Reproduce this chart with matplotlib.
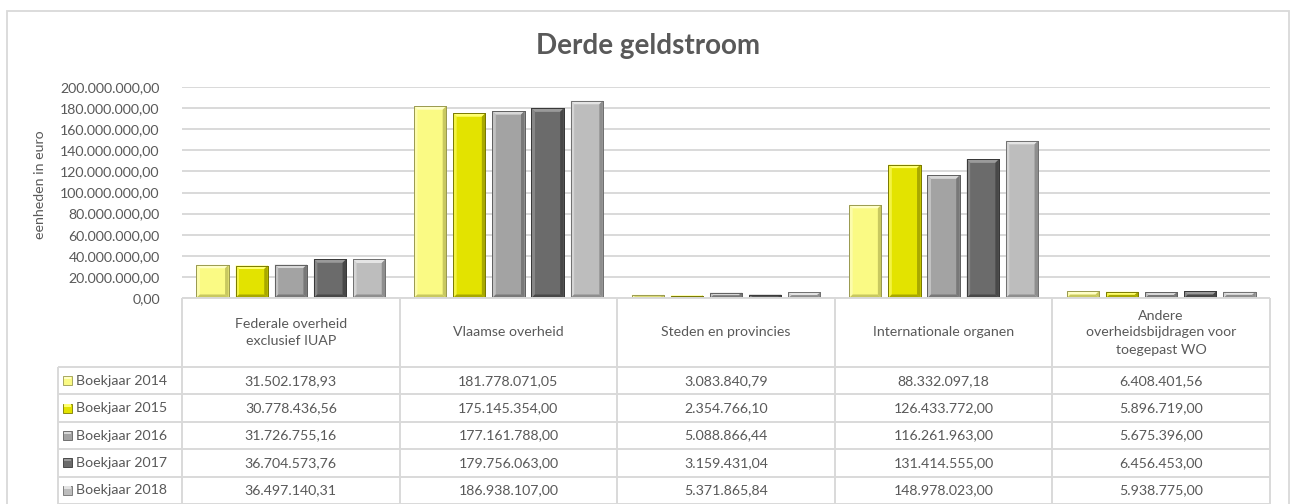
import matplotlib
matplotlib.use("Agg")
import matplotlib.pyplot as plt
from matplotlib.patches import Rectangle, Polygon
import numpy as np

categories = ["Federale overheid\nexclusief IUAP", "Vlaamse overheid", "Steden en provincies",
              "Internationale organen", "Andere\noverheidsbijdragen voor\ntoegepast WO"]
series_names = ["Boekjaar 2014", "Boekjaar 2015", "Boekjaar 2016", "Boekjaar 2017", "Boekjaar 2018"]
v2014 = [31502178.93, 181778071.05, 3083840.79, 88332097.18, 6408401.56]
v2015 = [30778436.56, 175145354.00, 2354766.10, 126433772.00, 5896719.00]
v2016 = [31726755.16, 177161788.00, 5088866.44, 116261963.00, 5675396.00]
v2017 = [36704573.76, 179756063.00, 3159431.04, 131414555.00, 6456453.00]
v2018 = [36497140.31, 186938107.00, 5371865.84, 148978023.00, 5938775.00]
series = [v2014, v2015, v2016, v2017, v2018]
yticks = np.arange(0, 200000001, 20000000)

colors = ["#FAFA84", "#E3E300", "#A3A3A3", "#6B6B6B", "#BDBDBD"]
light = ["#FFFFC8", "#FFFF70", "#D8D8D8", "#9A9A9A", "#E4E4E4"]
dark = ["#C8C860", "#A8A800", "#787878", "#484848", "#8E8E8E"]
edge = ["#9A9A50", "#7A7A00", "#606060", "#383838", "#707070"]

TXT = "#595959"
GRID = "#D9D9D9"
FONT = ["Lato", "DejaVu Sans"]
plt.rcParams['font.family'] = FONT
FS = 10.2

W, H = 1290, 504
fig = plt.figure(figsize=(W / 100, H / 100), dpi=100)

def fx(px):
    return px / W

def fy(py):
    return 1 - py / H

# outer border
fig.patches.append(Rectangle((fx(7), fy(520)), fx(1289) - fx(7), fy(11) - fy(520),
                             transform=fig.transFigure, fill=False, edgecolor=GRID, lw=1.3))

left_px, right_px = 182, 1270
top_px, zero_px = 87, 298
ax = fig.add_axes([fx(left_px), fy(zero_px), fx(right_px) - fx(left_px), fy(top_px) - fy(zero_px)])

x = np.arange(len(categories))
step = 0.18
bw = 0.148
px_per_x = (right_px - left_px) / len(categories)
px_per_y = (zero_px - top_px) / 200000000.0
bx = 3.5 / px_per_x
by = 3.5 / px_per_y

for i, vals in enumerate(series):
    bars = ax.bar(x + (i - 2) * step, vals, width=bw, color=colors[i],
                  edgecolor=edge[i], linewidth=0.7, zorder=3)
    for b in bars:
        x0, y0 = b.get_x(), b.get_y()
        w, h = b.get_width(), b.get_height()
        x1, y1 = x0 + w, y0 + h
        d = min(by, h / 2)
        ax.add_patch(Polygon([(x0, y1), (x1, y1), (x1 - bx, y1 - d), (x0 + bx, y1 - d)],
                             closed=True, facecolor=light[i], edgecolor='none', zorder=4))
        ax.add_patch(Polygon([(x0, y0), (x0, y1), (x0 + bx, y1 - d), (x0 + bx, y0 + d)],
                             closed=True, facecolor=light[i], edgecolor='none', alpha=0.6, zorder=4))
        ax.add_patch(Polygon([(x1, y0), (x1, y1), (x1 - bx, y1 - d), (x1 - bx, y0 + d)],
                             closed=True, facecolor=dark[i], edgecolor='none', zorder=4))
        ax.add_patch(Polygon([(x0, y0), (x1, y0), (x1 - bx, y0 + d), (x0 + bx, y0 + d)],
                             closed=True, facecolor=dark[i], edgecolor='none', zorder=4))
        ax.add_patch(Rectangle((x0, y0), w, h, fill=False, edgecolor=edge[i], lw=0.7, zorder=5))

def fmt(v):
    return "{:,.2f}".format(v).replace(",", "X").replace(".", ",").replace("X", ".")

ax.set_xlim(-0.5, len(categories) - 0.5)
ax.set_ylim(0, 200000000)
ax.set_yticks(yticks)
ax.set_yticklabels([fmt(v) for v in yticks], color=TXT, fontsize=FS)
ax.tick_params(axis='y', length=0, pad=16)
ax.set_xticks([])
ax.grid(axis='y', color=GRID, lw=1.4, zorder=0)
for s in ax.spines.values():
    s.set_visible(False)
ax.set_axisbelow(True)

fig.text(fx(40), fy(185), "eenheden in euro", rotation=90, ha='center', va='center',
         color=TXT, fontsize=FS)
fig.text(fx(648), fy(46), "Derde geldstroom", ha='center', va='center', color=TXT,
         fontsize=20, fontweight='bold')

# data table
tab_h = H - zero_px
tax = fig.add_axes([fx(left_px), 0, fx(right_px) - fx(left_px), fy(zero_px)])
tax.set_xlim(-0.5, len(categories) - 0.5)
tax.set_ylim(0, tab_h)
tax.axis('off')
header_h = 69
row_h = (tab_h - header_h) / len(series)
leg_left = -0.5 - (left_px - 58) / px_per_x

lk = dict(color=GRID, lw=1.4, clip_on=False, solid_capstyle='butt')
ytop = tab_h
yh = tab_h - header_h
tax.plot([-0.5, len(categories) - 0.5], [ytop, ytop], **lk)
for r in range(len(series) + 1):
    yy = yh - r * row_h
    tax.plot([leg_left, len(categories) - 0.5], [yy, yy], **lk)
for c in range(len(categories) + 1):
    tax.plot([c - 0.5, c - 0.5], [-5, ytop], **lk)
tax.plot([leg_left, leg_left], [-5, yh], **lk)

for c, cat in enumerate(categories):
    tax.text(c, yh + header_h / 2, cat, ha='center', va='center', color=TXT, fontsize=FS,
             linespacing=1.5)
    for r, vals in enumerate(series):
        tax.text(c, yh - (r + 0.5) * row_h, fmt(vals[c]), ha='center', va='center',
                 color=TXT, fontsize=FS)

sq_w = 9 / px_per_x
for r, name in enumerate(series_names):
    yc = yh - (r + 0.5) * row_h
    sx = leg_left + 5 / px_per_x
    tax.add_patch(Rectangle((sx, yc - 4.5), sq_w, 9, facecolor=colors[r], edgecolor=edge[r],
                            lw=0.6, clip_on=False))
    tax.add_patch(Rectangle((sx + 0.15 * sq_w, yc + 1.5), 0.7 * sq_w, 2.5, facecolor=light[r],
                            edgecolor='none', clip_on=False))
    tax.text(sx + sq_w + 4 / px_per_x, yc, name, ha='left', va='center', color=TXT, fontsize=FS)

fig.savefig("out.png", dpi=100)
